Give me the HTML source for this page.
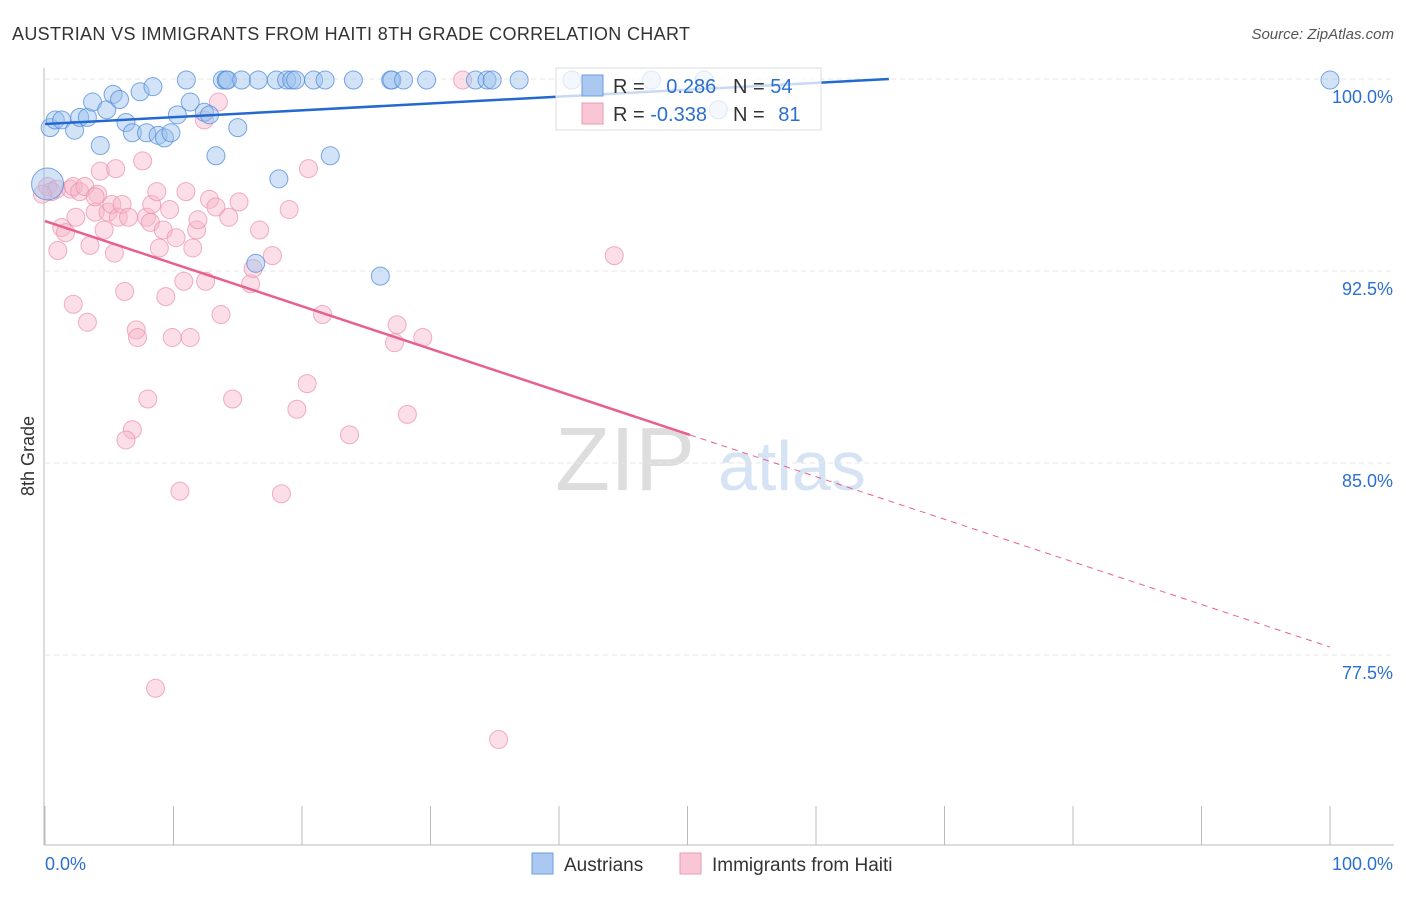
<!DOCTYPE html>
<html><head><meta charset="utf-8"><style>
body{margin:0;background:#fff;font-family:"Liberation Sans",sans-serif;}
svg text{font-family:"Liberation Sans",sans-serif;}
</style></head><body>
<svg id="chart" width="1406" height="892" xmlns="http://www.w3.org/2000/svg">
<text x="12" y="40" font-size="18" fill="#333" textLength="678">AUSTRIAN VS IMMIGRANTS FROM HAITI 8TH GRADE CORRELATION CHART</text>
<text x="1394" y="39" font-size="15" fill="#555" font-style="italic" text-anchor="end">Source: ZipAtlas.com</text>
<text transform="translate(34,456) rotate(-90)" font-size="18" fill="#333" text-anchor="middle">8th Grade</text>
<g>
<text x="555" y="490" font-size="90" fill="#ddd" font-family="Liberation Serif, serif">ZIP</text>
<text x="718" y="490" font-size="70" fill="#d5e3f5">atlas</text>
</g>
<g id="grid"></g>
<g id="axes"></g>
<g id="marks"></g>
<g>
<rect x="556" y="68" width="265" height="62" fill="#fff" fill-opacity="0.75" stroke="#ddd"/>
<rect x="582" y="75" width="21" height="21" fill="#aac8f0" stroke="#6a9de0"/>
<text x="613" y="93" font-size="20" fill="#333">R = <tspan fill="#2b6fd0" dx="16">0.286</tspan></text>
<text x="733" y="93" font-size="20" fill="#333">N = <tspan fill="#2b6fd0">54</tspan></text>
<rect x="582" y="103" width="21" height="21" fill="#f9c6d5" stroke="#eb9ab3"/>
<text x="613" y="121" font-size="20" fill="#333">R = <tspan fill="#2b6fd0">-0.338</tspan></text>
<text x="733" y="121" font-size="20" fill="#333">N = <tspan fill="#2b6fd0" dx="8">81</tspan></text>
</g>
<g>
<rect x="532" y="853" width="21" height="21" fill="#aac8f0" stroke="#6a9de0"/>
<text x="564" y="871" font-size="19" fill="#333">Austrians</text>
<rect x="680" y="853" width="21" height="21" fill="#f9c6d5" stroke="#eb9ab3"/>
<text x="712" y="871" font-size="19" fill="#333">Immigrants from Haiti</text>
</g>
</svg>
<script>
const yTicks=[100,92.5,85,77.5];
const yTickLabels=["100.0%","92.5%","85.0%","77.5%"];
const xTicks=[0,10,20,30,40,50,60,70,80,90,100];
const austX=[0.4,0.8,1.3,2.3,2.7,3.3,3.7,4.3,4.8,5.3,5.8,6.3,6.8,7.4,7.9,8.4,8.8,9.3,9.8,10.3,11,11.3,12.4,12.8,13.3,13.8,14.1,14.2,15,15.3,16.6,18,18.8,19.2,19.5,20.9,21.8,24,26.9,27,27.9,29.7,33.5,34.4,34.8,36.9,41,47.2,51.3,52.4,16.4,18.2,22.2,26.1,100,0.2];
const austY=[98.1,98.4,98.4,98.0,98.5,98.5,99.1,97.4,98.8,99.4,99.2,98.3,97.9,99.5,97.9,99.7,97.8,97.7,97.9,98.6,99.96,99.1,98.7,98.6,97.0,99.96,99.96,99.96,98.1,99.96,99.96,99.96,99.96,99.96,99.96,99.96,99.96,99.96,99.96,99.96,99.96,99.96,99.96,99.96,99.96,99.96,99.96,99.96,99.96,98.8,92.8,96.1,97.0,92.3,99.96,95.9];
const austR=[9,9,9,9,9,9,9,9,9,9,9,9,9,9,9,9,9,9,9,9,9,9,9,9,9,9,9,9,9,9,9,9,9,9,9,9,9,9,9,9,9,9,9,9,9,9,9,9,9,9,9,9,9,9,9,16];
const haitiX=[0.2,0.5,0.9,1.3,1.6,2,2.2,2.4,2.7,3.1,1,2.2,3.3,3.5,4.1,3.9,4.3,4.6,4.9,5.2,5.4,5.5,5.7,6,6.2,6.5,7.1,7.2,7.6,7.9,8,8.2,8.3,8.7,8.9,9.2,9.4,9.7,9.9,10.2,10.5,10.8,10.97,11.3,11.5,11.8,11.9,12.4,12.5,12.8,13.3,13.5,13.7,14.3,14.6,15.1,16,16.2,16.7,17.7,19,19.6,20.4,20.5,21.6,18.4,23.7,27.2,27.4,28.2,29.4,32.5,44.3,8.6,35.3,6.8,6.3,3.9,-0.2];
const haitiY=[95.8,95.6,95.7,94.2,94.0,95.7,95.8,94.6,95.6,95.8,93.3,91.2,90.5,93.5,95.5,94.8,96.4,94.1,94.8,95.1,93.2,96.5,94.6,95.1,91.7,94.6,90.2,89.9,96.8,94.6,87.5,94.4,95.1,95.6,93.4,94.1,91.5,94.9,89.9,93.8,83.9,92.1,95.6,89.9,93.4,94.1,94.5,98.4,92.1,95.3,95.0,99.1,90.8,94.6,87.5,95.2,92.0,92.6,94.1,93.1,94.9,87.1,88.1,96.5,90.8,83.8,86.1,89.7,90.4,86.9,89.9,99.96,93.1,76.2,74.2,86.3,85.9,95.4,95.5];
const austLine=[0,98.24,100,100.92];
const haitiLine=[0,94.45,100,77.81];
const haitiSolidEnd=50.2;

const NS="http://www.w3.org/2000/svg";
const X=v=>45+v*12.85;
const Y=v=>79+(100-v)*25.6;
function mk(tag,attrs,parent){const e=document.createElementNS(NS,tag);for(const k in attrs)e.setAttribute(k,attrs[k]);parent.appendChild(e);return e;}
const grid=document.getElementById('grid'),axes=document.getElementById('axes'),marks=document.getElementById('marks');
yTicks.forEach((t,i)=>{
 const l=mk('line',{x1:45,x2:1394,y1:Y(t),y2:Y(t),stroke:'#e6e6e6','stroke-dasharray':'5,4'},grid);
 
 
 const tx=mk('text',{x:1393,y:Y(t)+24,'font-size':18,fill:'#2b6fd0','text-anchor':'end'},axes);
 tx.textContent=yTickLabels[i];
 
 
});
const ax=mk('line',{x1:44,x2:44,y1:68,y2:845,stroke:'#bbb'},axes);


const bx=mk('line',{x1:44,x2:1394,y1:845,y2:845,stroke:'#bbb'},axes);


xTicks.forEach(t=>{
 const l=mk('line',{x1:X(t),x2:X(t),y1:806,y2:845,stroke:'#bbb'},axes);
 
 
});
const xl0=mk('text',{x:45,y:870,'font-size':18,fill:'#2b6fd0'},axes);xl0.textContent='0.0%';


const xl1=mk('text',{x:1393,y:870,'font-size':18,fill:'#2b6fd0','text-anchor':'end'},axes);xl1.textContent='100.0%';



haitiX.forEach((x,i)=>{
 const c=mk('circle',{cx:X(x),cy:Y(haitiY[i]),r:9,fill:'#f7b6c9','fill-opacity':0.45,stroke:'#eb8fab','stroke-opacity':0.7},marks);
 
 
});
austX.forEach((x,i)=>{
 const c=mk('circle',{cx:X(x),cy:Y(austY[i]),r:austR[i],fill:'#9cc0ee','fill-opacity':0.45,stroke:'#4f8bdb','stroke-opacity':0.75},marks);
 
 
});
const aslope=(austLine[3]-austLine[1])/(austLine[2]-austLine[0]);
const aEnd=Math.min(100,(100-austLine[1])/aslope);
const al=mk('line',{x1:X(0),y1:Y(austLine[1]),x2:X(aEnd),y2:Y(austLine[1]+aslope*aEnd),stroke:'#2469d0','stroke-width':2.5},marks);


const hslope=(haitiLine[3]-haitiLine[1])/(haitiLine[2]-haitiLine[0]);
const hs=mk('line',{x1:X(0),y1:Y(haitiLine[1]),x2:X(haitiSolidEnd),y2:Y(haitiLine[1]+hslope*haitiSolidEnd),stroke:'#e8608c','stroke-width':2.5},marks);


const hd=mk('line',{x1:X(haitiSolidEnd),y1:Y(haitiLine[1]+hslope*haitiSolidEnd),x2:X(100),y2:Y(haitiLine[3]),stroke:'#e8608c','stroke-width':1,'stroke-dasharray':'6,5'},marks);


</script>
</body></html>
